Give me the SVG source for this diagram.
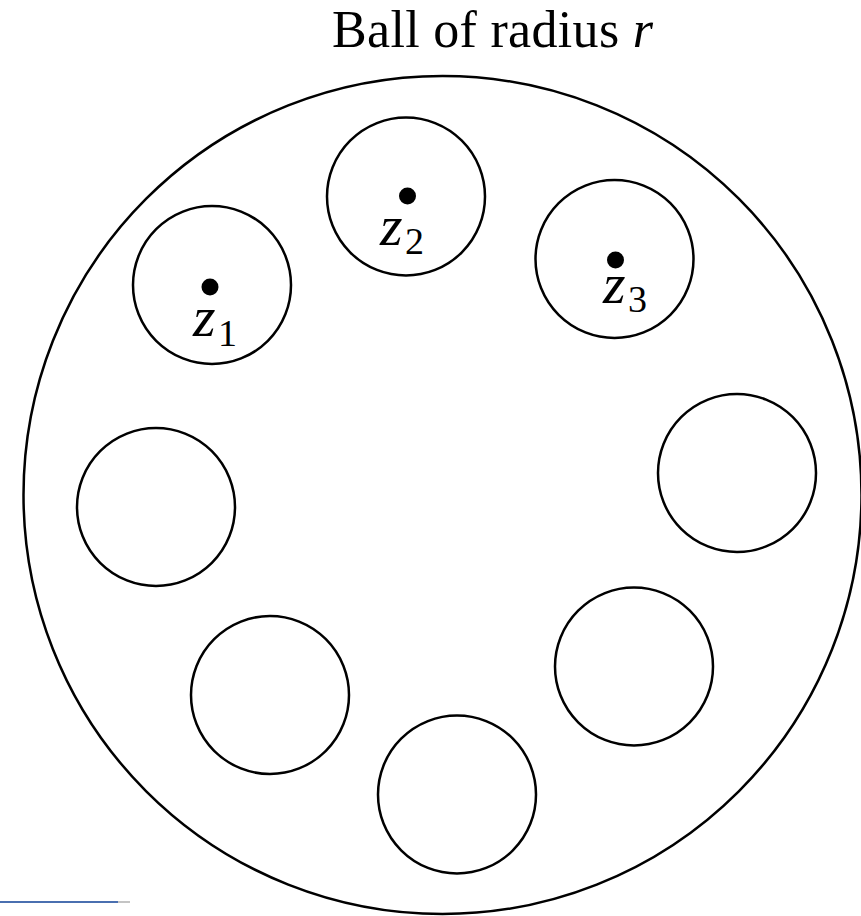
<svg xmlns="http://www.w3.org/2000/svg" width="861" height="916" viewBox="0 0 861 916">
<style>
.c{fill:none;stroke:#000;stroke-width:2.5}
.d{fill:#000}
.t{font-family:"Liberation Serif",serif;fill:#000}
.z{font-family:"Liberation Serif",serif;font-style:italic;font-size:58px;fill:#000}
.s{font-family:"Liberation Serif",serif;font-size:38px;fill:#000}
</style>
<rect width="861" height="916" fill="#fff"/>
<g id="title">
<text class="t" x="332" y="47" font-size="52" textLength="321" lengthAdjust="spacing">Ball of radius <tspan font-style="italic">r</tspan></text>
</g>
<g id="ball"><circle class="c" cx="442.5" cy="495" r="419"/></g>
<g id="ball-z1">
<circle class="c" cx="212" cy="285" r="79"/>
<circle class="d" cx="210" cy="287" r="8.5"/>
<text class="z" x="193" y="336">z</text><text class="s" x="218" y="346">1</text>
</g>
<g id="ball-z2">
<circle class="c" cx="406" cy="196.5" r="79"/>
<circle class="d" cx="407.5" cy="196" r="8.5"/>
<text class="z" x="380" y="245">z</text><text class="s" x="405" y="254">2</text>
</g>
<g id="ball-z3">
<circle class="c" cx="614.5" cy="259" r="79"/>
<circle class="d" cx="615.5" cy="260" r="8.5"/>
<text class="z" x="603" y="303">z</text><text class="s" x="628" y="312">3</text>
</g>
<g id="ball-left"><circle class="c" cx="156" cy="507" r="79"/></g>
<g id="ball-right"><circle class="c" cx="737" cy="473" r="79"/></g>
<g id="ball-bottom-left"><circle class="c" cx="270" cy="695" r="79"/></g>
<g id="ball-bottom"><circle class="c" cx="457" cy="794.5" r="79"/></g>
<g id="ball-bottom-right"><circle class="c" cx="634" cy="666.5" r="79"/></g>
<g id="connectors"></g>
<g id="footnote-rule">
<line x1="0" y1="902" x2="130" y2="902" stroke="#b0b0b0" stroke-width="1.5"/>
<line x1="0" y1="902" x2="118" y2="902" stroke="#4a6fb0" stroke-width="2"/>
</g>
</svg>
